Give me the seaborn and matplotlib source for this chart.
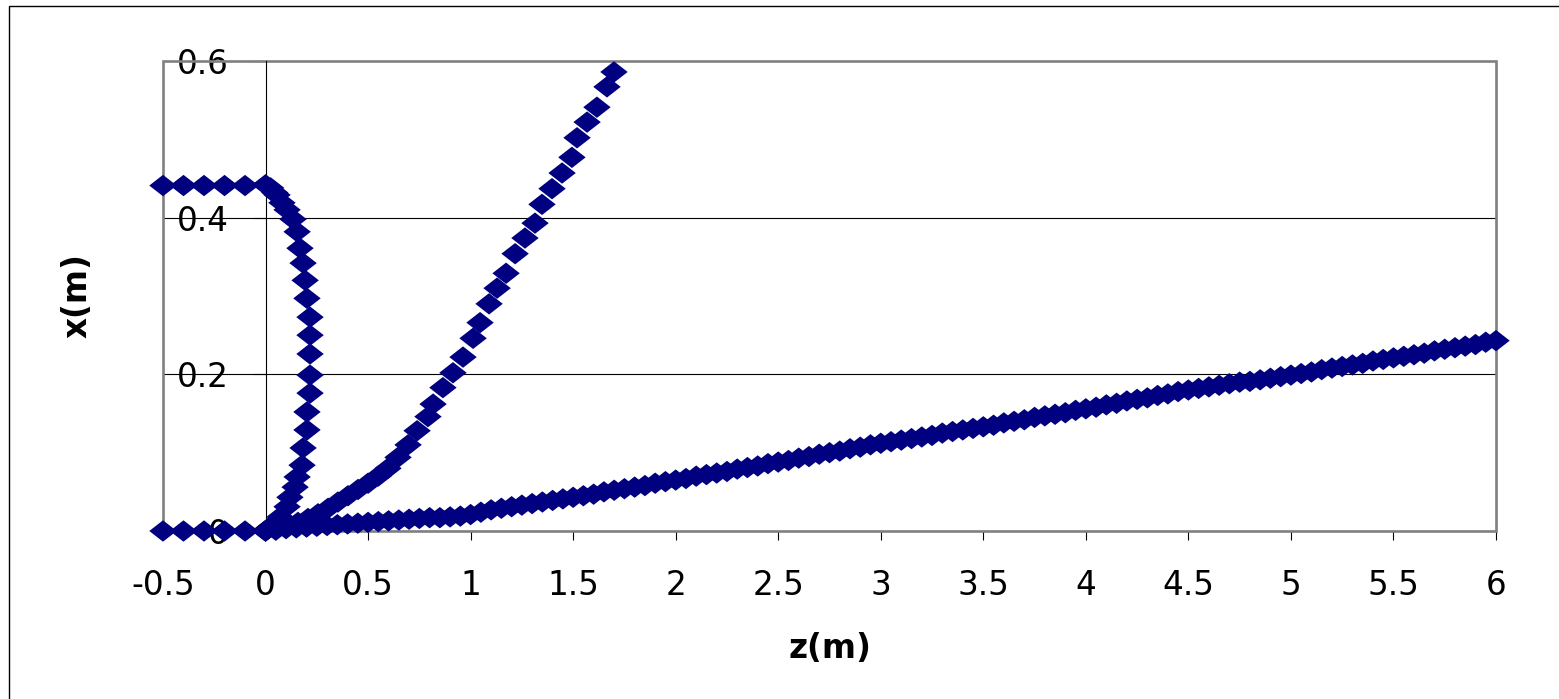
import pandas as pd
import seaborn as sns
import matplotlib.pyplot as plt
from matplotlib.patches import Rectangle
from matplotlib.ticker import FuncFormatter

# points, z(m) on the horizontal axis and x(m) on the vertical one
lead_z = [-0.5, -0.4, -0.3, -0.2, -0.1]
top_x = [0.441, 0.441, 0.441, 0.441, 0.441]
base_x = [0.0, 0.0, 0.0, 0.0, 0.0]

loop_z = [0.0, 0.025, 0.045, 0.056, 0.080, 0.105, 0.134, 0.154, 0.168, 0.183,
          0.193, 0.202, 0.217, 0.217, 0.217, 0.217, 0.217, 0.202, 0.202, 0.183,
          0.178, 0.154, 0.144, 0.119, 0.105, 0.071, 0.022, 0.0]
loop_x = [0.442, 0.438, 0.432, 0.429, 0.419, 0.410, 0.398, 0.382, 0.361, 0.342,
          0.320, 0.297, 0.273, 0.250, 0.226, 0.199, 0.176, 0.152, 0.129, 0.106,
          0.084, 0.069, 0.056, 0.043, 0.031, 0.018, 0.005, 0.0]

mid_z = [0.0, 0.012, 0.061, 0.110, 0.158, 0.207, 0.256, 0.305, 0.353, 0.402,
         0.451, 0.500, 0.549, 0.597, 0.646, 0.695, 0.739, 0.792, 0.817, 0.865,
         0.914, 0.963, 1.012, 1.046, 1.090, 1.129, 1.173, 1.217, 1.265, 1.314,
         1.348, 1.397, 1.446, 1.494, 1.519, 1.568, 1.616, 1.665, 1.699]
mid_x = [0.0, 0.003, 0.005, 0.008, 0.011, 0.016, 0.022, 0.029, 0.037, 0.045,
         0.053, 0.061, 0.070, 0.080, 0.094, 0.110, 0.128, 0.146, 0.162, 0.183,
         0.202, 0.222, 0.246, 0.266, 0.290, 0.310, 0.329, 0.354, 0.374, 0.393,
         0.417, 0.437, 0.457, 0.477, 0.502, 0.522, 0.541, 0.567, 0.586]

long_z = [0.00, 0.05, 0.10, 0.15, 0.20, 0.25, 0.30, 0.35, 0.40, 0.45,
          0.50, 0.55, 0.60, 0.65, 0.70, 0.75, 0.80, 0.85, 0.90, 0.95,
          1.00, 1.05, 1.10, 1.15, 1.20, 1.25, 1.30, 1.35, 1.40, 1.45,
          1.50, 1.55, 1.60, 1.65, 1.70, 1.75, 1.80, 1.85, 1.90, 1.95,
          2.00, 2.05, 2.10, 2.15, 2.20, 2.25, 2.30, 2.35, 2.40, 2.45,
          2.50, 2.55, 2.60, 2.65, 2.70, 2.75, 2.80, 2.85, 2.90, 2.95,
          3.00, 3.05, 3.10, 3.15, 3.20, 3.25, 3.30, 3.35, 3.40, 3.45,
          3.50, 3.55, 3.60, 3.65, 3.70, 3.75, 3.80, 3.85, 3.90, 3.95,
          4.00, 4.05, 4.10, 4.15, 4.20, 4.25, 4.30, 4.35, 4.40, 4.45,
          4.50, 4.55, 4.60, 4.65, 4.70, 4.75, 4.80, 4.85, 4.90, 4.95,
          5.00, 5.05, 5.10, 5.15, 5.20, 5.25, 5.30, 5.35, 5.40, 5.45,
          5.50, 5.55, 5.60, 5.65, 5.70, 5.75, 5.80, 5.85, 5.90, 5.95,
          6.00]
long_x = [0.000, 0.001, 0.003, 0.004, 0.005, 0.006, 0.007, 0.008, 0.009, 0.010,
          0.011, 0.012, 0.013, 0.014, 0.015, 0.016, 0.017, 0.017, 0.018, 0.019,
          0.021, 0.024, 0.027, 0.029, 0.031, 0.033, 0.035, 0.037, 0.039, 0.041,
          0.043, 0.045, 0.047, 0.050, 0.052, 0.054, 0.056, 0.058, 0.061, 0.063,
          0.065, 0.067, 0.070, 0.072, 0.074, 0.076, 0.079, 0.081, 0.083, 0.086,
          0.088, 0.090, 0.093, 0.095, 0.098, 0.100, 0.102, 0.105, 0.107, 0.110,
          0.112, 0.114, 0.116, 0.118, 0.120, 0.122, 0.125, 0.127, 0.129, 0.131,
          0.133, 0.135, 0.138, 0.140, 0.142, 0.145, 0.147, 0.149, 0.151, 0.154,
          0.156, 0.158, 0.161, 0.163, 0.166, 0.168, 0.170, 0.173, 0.175, 0.178,
          0.180, 0.182, 0.184, 0.186, 0.188, 0.190, 0.191, 0.193, 0.195, 0.197,
          0.199, 0.201, 0.203, 0.206, 0.208, 0.210, 0.212, 0.214, 0.217, 0.219,
          0.221, 0.223, 0.225, 0.227, 0.230, 0.232, 0.234, 0.236, 0.238, 0.241,
          0.243]

x_ticks = [-0.5, 0, 0.5, 1, 1.5, 2, 2.5, 3, 3.5, 4, 4.5, 5, 5.5, 6]
y_ticks = [0, 0.2, 0.4, 0.6]

df = pd.concat([
    pd.DataFrame({"z": lead_z, "x": top_x}),
    pd.DataFrame({"z": lead_z, "x": base_x}),
    pd.DataFrame({"z": loop_z, "x": loop_x}),
    pd.DataFrame({"z": mid_z, "x": mid_x}),
    pd.DataFrame({"z": long_z, "x": long_x}),
], ignore_index=True)

sns.set_style("white")
plt.rcParams['font.family'] = ['DejaVu Sans']
plt.rcParams['text.color'] = 'black'
plt.rcParams['axes.labelcolor'] = 'black'
plt.rcParams['xtick.color'] = 'black'
plt.rcParams['ytick.color'] = 'black'

W, H = 1559, 699
fig = plt.figure(figsize=(W / 100, H / 100), dpi=100)
ax = fig.add_axes([163 / W, 1 - 531 / H, (1496 - 163) / W, (531 - 61) / H])

# Excel style diamond, a bit wider than tall
diamond = [(-1, 0), (0, 0.78), (1, 0), (0, -0.78), (-1, 0)]
sns.scatterplot(data=df, x="z", y="x", marker=diamond, s=390, color="#000080",
                edgecolor="none", linewidth=0, clip_on=False, zorder=3,
                legend=False, ax=ax)

ax.set_xlim(-0.5, 6)
ax.set_ylim(0, 0.6)
ax.set_xticks(x_ticks)
ax.set_yticks(y_ticks)
fmt = FuncFormatter(lambda v, p: f"{v:g}")
ax.xaxis.set_major_formatter(fmt)
ax.yaxis.set_major_formatter(fmt)

# gray plot-area frame, y axis crossing at z = 0
for side in ["top", "right", "bottom"]:
    ax.spines[side].set_visible(False)
ax.spines["left"].set_position(("data", 0))
ax.spines["left"].set_color("black")
ax.spines["left"].set_linewidth(0.8)
ax.add_patch(Rectangle((0, 0), 1, 1, transform=ax.transAxes, fill=False,
                       edgecolor="#808080", lw=1.9, clip_on=False, zorder=1))

ax.yaxis.grid(True, color="black", lw=0.8)
ax.xaxis.grid(False)
ax.set_axisbelow(True)

ax.tick_params(axis="x", direction="out", length=6.7, width=0.8, colors="black",
               pad=20.5, labelsize=23.5, bottom=True)
ax.tick_params(axis="y", direction="out", length=9.4, width=0.8, colors="black",
               pad=17, labelsize=23.5, left=True)

ax.set_xlabel("z(m)", fontsize=23.5, fontweight="bold", color="black")
ax.xaxis.label.set_va("center")
ax.xaxis.set_label_coords(0.5, (531 - 648) / 470)
ax.set_ylabel("x(m)", fontsize=23.5, fontweight="bold", color="black")
ax.yaxis.label.set_va("center")
ax.yaxis.set_label_coords((77 - 163) / 1333, 0.5)

# outer chart border (cut at right and bottom in the reference)
fig.add_artist(Rectangle((9 / W, -0.05), 1.2, 1 - 6 / H + 0.05,
                         transform=fig.transFigure, fill=False,
                         edgecolor="black", lw=1.0))

fig.savefig("out.png", dpi=100)
